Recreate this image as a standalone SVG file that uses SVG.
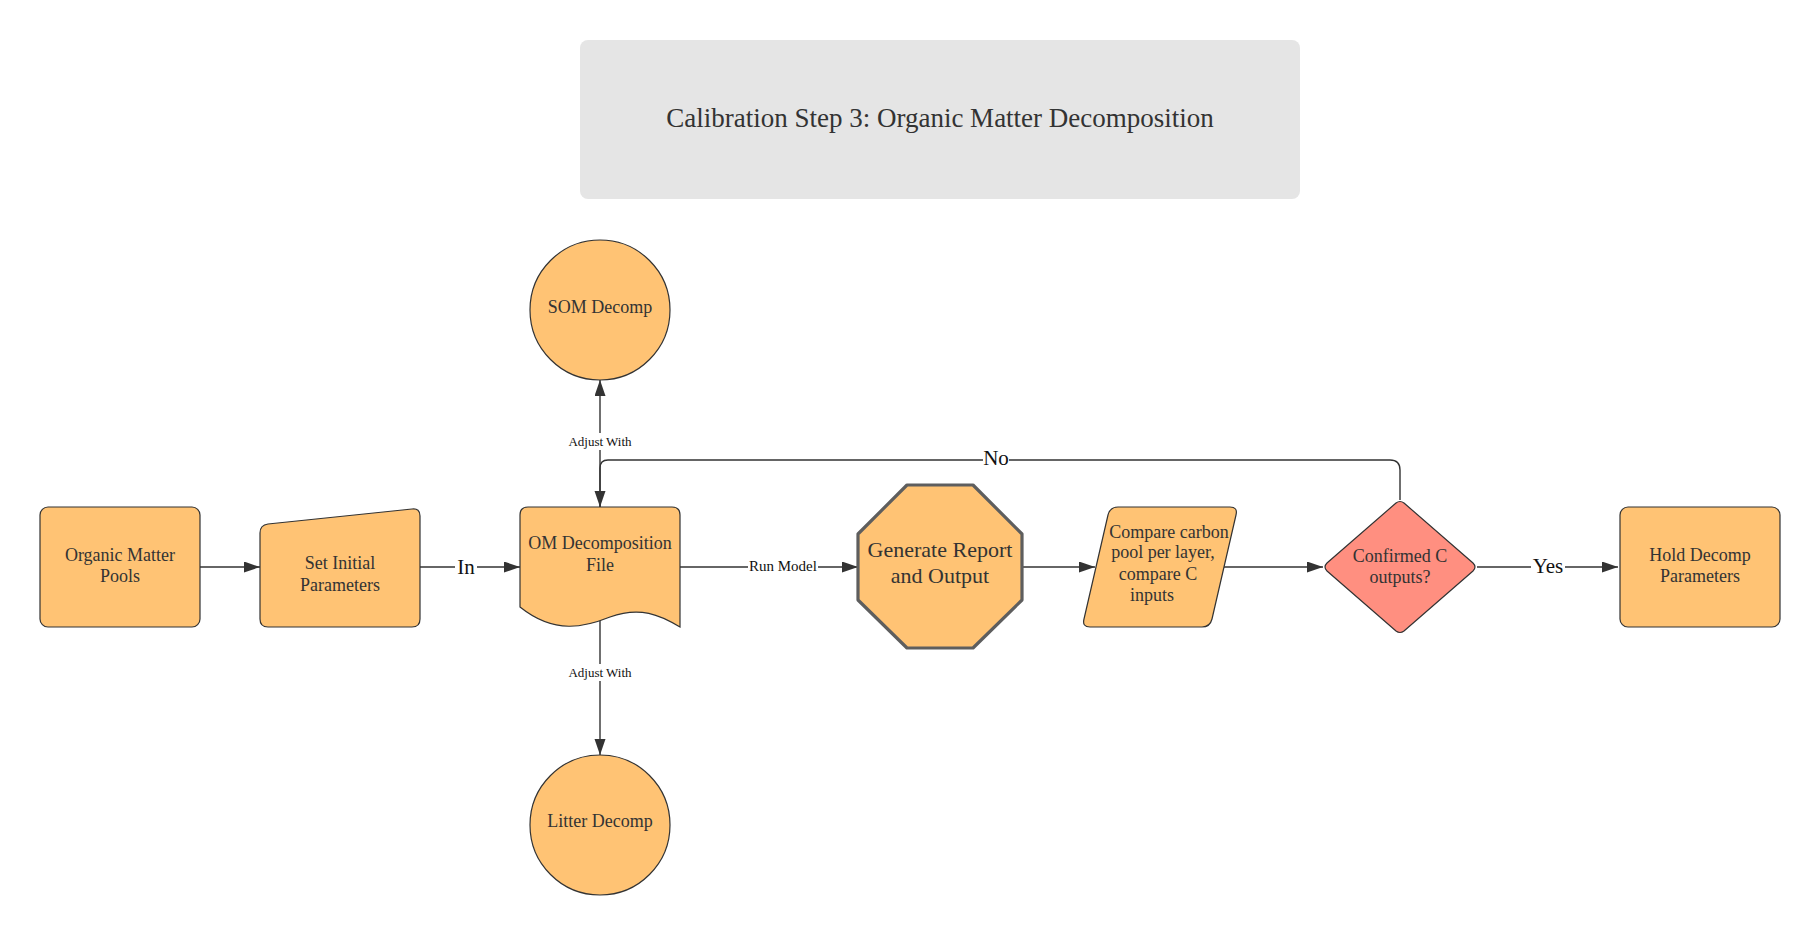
<svg xmlns="http://www.w3.org/2000/svg" width="1820" height="935" viewBox="0 0 1820 935">
<style>
.node{fill:#FFC374;stroke:#333;stroke-width:1.2}
.t{font-family:"Liberation Serif",serif;fill:#333;text-anchor:middle}
.n18{font-size:18px}
.conn{fill:none;stroke:#333;stroke-width:1.4}
.lbl{font-family:"Liberation Serif",serif;fill:#111;text-anchor:middle}
.bg{fill:#fff}
</style>
<defs>
<marker id="arr" markerUnits="userSpaceOnUse" markerWidth="17" markerHeight="12" refX="16" refY="5.5" orient="auto">
<path d="M0,0 L16,5.5 L0,11 z" fill="#333"/>
</marker>
</defs>
<rect width="1820" height="935" fill="#fff"/>

<g id="title">
<rect x="580" y="40" width="720" height="159" rx="8" fill="#e5e5e5"/>
<text class="t" x="940" y="127" font-size="27">Calibration Step 3: Organic Matter Decomposition</text>
</g>

<g id="connectors">
<path class="conn" d="M200,567 L260,567" marker-end="url(#arr)"/>
<path class="conn" d="M420,567 L520,567" marker-end="url(#arr)"/>
<path class="conn" d="M680,567 L858,567" marker-end="url(#arr)"/>
<path class="conn" d="M1022,567 L1095,567" marker-end="url(#arr)"/>
<path class="conn" d="M1224,567 L1323,567" marker-end="url(#arr)"/>
<path class="conn" d="M1477,567 L1618,567" marker-end="url(#arr)"/>
<path class="conn" d="M600,507 L600,380" marker-end="url(#arr)"/>
<path class="conn" d="M600,621 L600,755" marker-end="url(#arr)"/>
<path class="conn" d="M1400,500 L1400,470 Q1400,460 1390,460 L608,460 Q600,460 600,468 L600,507" marker-end="url(#arr)"/>
<rect class="bg" x="455" y="554" width="22" height="26"/>
<text class="lbl" x="466" y="574" font-size="21">In</text>
<rect class="bg" x="748" y="556" width="70" height="18"/>
<text class="lbl" x="783" y="571" font-size="15">Run Model</text>
<rect class="bg" x="566" y="433" width="68" height="17"/>
<text class="lbl" x="600" y="446" font-size="13">Adjust With</text>
<rect class="bg" x="566" y="664" width="68" height="17"/>
<text class="lbl" x="600" y="677" font-size="13">Adjust With</text>
<rect class="bg" x="983" y="448" width="26" height="22"/>
<text class="lbl" x="996" y="465" font-size="21">No</text>
<rect class="bg" x="1531" y="554" width="34" height="24"/>
<text class="lbl" x="1548" y="573" font-size="21">Yes</text>
</g>

<g id="organic-matter-pools">
<rect class="node" x="40" y="507" width="160" height="120" rx="8"/>
<text class="t n18" x="120" y="561">Organic Matter</text>
<text class="t n18" x="120" y="582">Pools</text>
</g>

<g id="set-initial-parameters">
<path class="node" d="M268,524 L412,509 Q420,508 420,516 L420,619 Q420,627 412,627 L268,627 Q260,627 260,619 L260,533 Q260,525 268,524 z"/>
<text class="t n18" x="340" y="569">Set Initial</text>
<text class="t n18" x="340" y="591">Parameters</text>
</g>

<g id="om-decomposition-file">
<path class="node" d="M528,507 L672,507 Q680,507 680,515 L680,627 C660,615 640,606 610,617 C585,627 555,635 520,607 L520,515 Q520,507 528,507 z"/>
<text class="t n18" x="600" y="549">OM Decomposition</text>
<text class="t n18" x="600" y="571">File</text>
</g>

<g id="som-decomp">
<circle class="node" cx="600" cy="310" r="70"/>
<text class="t n18" x="600" y="313">SOM Decomp</text>
</g>

<g id="litter-decomp">
<circle class="node" cx="600" cy="825" r="70"/>
<text class="t n18" x="600" y="827">Litter Decomp</text>
</g>

<g id="generate-report">
<path d="M907,485 L973,485 L1022,534 L1022,600 L973,648 L907,648 L858,600 L858,534 z" fill="#FFC374" stroke="#5e5e5e" stroke-width="3.2" stroke-linejoin="round"/>
<text class="t" x="940" y="557" font-size="22">Generate Report</text>
<text class="t" x="940" y="583" font-size="22">and Output</text>
</g>

<g id="compare-carbon">
<path class="node" d="M1118,507 L1230,507 Q1238,507 1236,515 L1212,619 Q1210,627 1202,627 L1090,627 Q1082,627 1084,619 L1108,515 Q1110,507 1118,507 z"/>
<text class="t n18" x="1169" y="538">Compare carbon</text>
<text class="t n18" x="1163" y="558">pool per layer,</text>
<text class="t n18" x="1158" y="580">compare C</text>
<text class="t n18" x="1152" y="601">inputs</text>
</g>

<g id="confirmed-c-outputs">
<path d="M1396,503 Q1400,500 1404,503 L1473,563 Q1477,567 1473,571 L1404,631 Q1400,634 1396,631 L1327,571 Q1323,567 1327,563 z" fill="#FF8F80" stroke="#333" stroke-width="1.2"/>
<text class="t n18" x="1400" y="562">Confirmed C</text>
<text class="t n18" x="1400" y="583">outputs?</text>
</g>

<g id="hold-decomp-parameters">
<rect class="node" x="1620" y="507" width="160" height="120" rx="8"/>
<text class="t n18" x="1700" y="561">Hold Decomp</text>
<text class="t n18" x="1700" y="582">Parameters</text>
</g>
</svg>
